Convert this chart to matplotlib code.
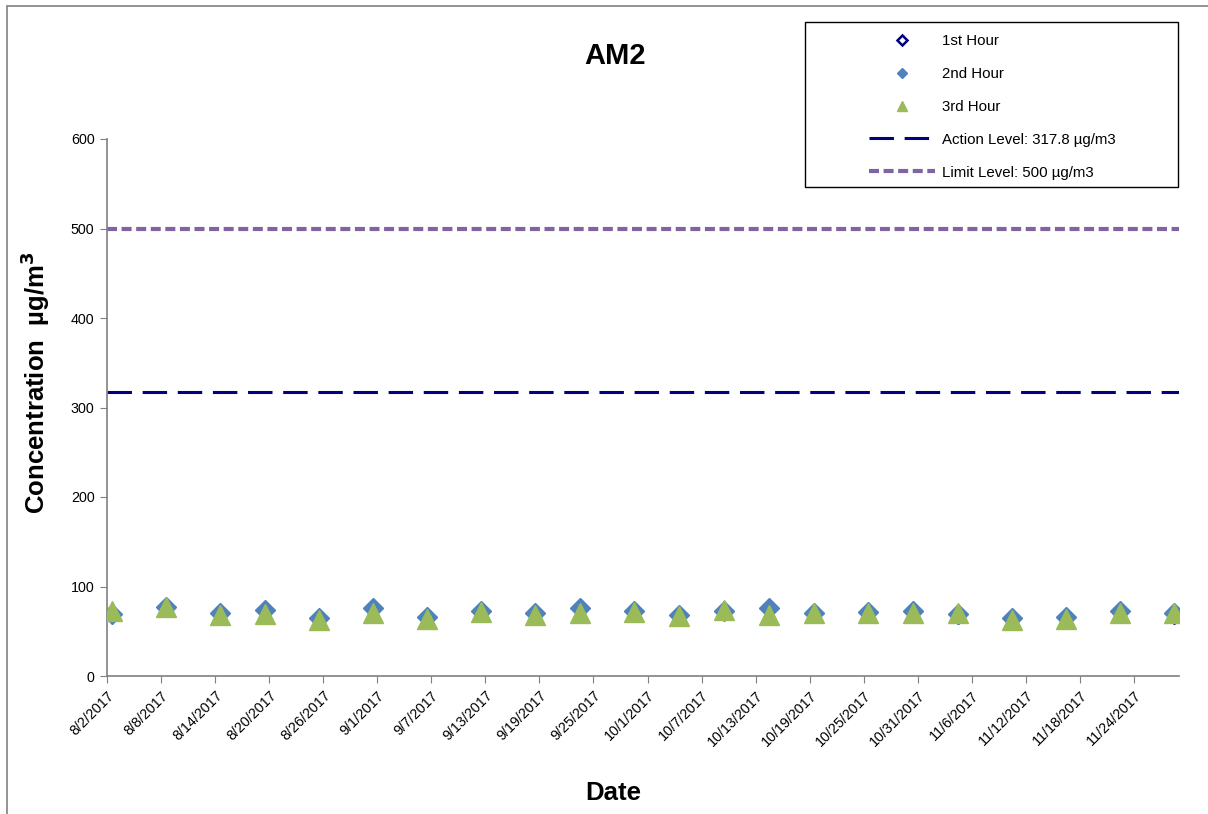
import matplotlib
matplotlib.use("Agg")
import matplotlib.pyplot as plt
from matplotlib.lines import Line2D
from matplotlib.patches import Rectangle
import pandas as pd

plt.rcParams['font.family'] = ['Liberation Sans', 'DejaVu Sans']

dates = ["2017-08-02", "2017-08-08", "2017-08-14", "2017-08-19", "2017-08-25", "2017-08-31",
         "2017-09-06", "2017-09-12", "2017-09-18", "2017-09-23", "2017-09-29", "2017-10-04",
         "2017-10-09", "2017-10-14", "2017-10-19", "2017-10-25", "2017-10-30", "2017-11-04",
         "2017-11-10", "2017-11-16", "2017-11-22", "2017-11-28"]
hour1 = [67, 75, 68, 72, 63, 74, 64, 71, 68, 74, 71, 66, 70, 74, 69, 72, 71, 66, 63, 65, 71, 66]
hour2 = [69.6, 77.4, 70, 73.7, 64.4, 75.6, 66.3, 73, 70, 75.6, 72.6, 68.2, 73, 75.6, 70.7, 71.8,
         73, 69.3, 64.4, 66.3, 73, 70]
hour3 = [72.3, 77.1, 68.2, 69.6, 62.9, 70, 63.5, 71, 68, 70.7, 71, 67.4, 73.7, 68.7, 70.7, 70.7,
         70.7, 70, 62.9, 63.5, 70.7, 70]
action_level = 317.8
limit_level = 500
tick_start, tick_end = "2017-08-02", "2017-11-29"
y_ticks = [0, 100, 200, 300, 400, 500, 600]

W, H = 1208, 814
fig = plt.figure(figsize=(W / 100, H / 100), dpi=100)

def fx(px):
    return px / W

def fy(py):
    return 1 - py / H

ax = fig.add_axes([fx(107), fy(676), fx(1179) - fx(107), fy(139) - fy(676)])

x = pd.to_datetime(dates) + pd.Timedelta(hours=12)
ax.plot(x, hour1, linestyle='none', marker='D', markersize=7, markerfacecolor='#000080',
        markeredgecolor='#000080', zorder=3)
ax.plot(x, hour2, linestyle='none', marker='D', markersize=10.5, markerfacecolor='#4F81BD',
        markeredgecolor='#4F81BD', zorder=4)
ax.plot(x, hour3, linestyle='none', marker='^', markersize=14, markerfacecolor='#9BBB59',
        markeredgecolor='#9BBB59', zorder=5)

ax.axhline(action_level, color='#000080', linewidth=2.2, dashes=(8, 3.5), zorder=2)
ax.axhline(limit_level, color='#8064A2', linewidth=3.0, dashes=(2.4, 1.1), zorder=2)

ax.set_xlim(pd.Timestamp(tick_start), pd.Timestamp(tick_end))
ax.set_ylim(0, 600)
ax.set_yticks(y_ticks)
xt = pd.date_range(tick_start, tick_end, freq='6D')
ax.set_xticks(xt)
ax.set_xticklabels([f"{d.month}/{d.day}/{d.year}" for d in xt], rotation=45, ha='right',
                   rotation_mode='anchor', fontsize=10.3)
ax.tick_params(axis='y', labelsize=10.3, length=5, color='#808080', pad=4)
ax.tick_params(axis='x', length=5, color='#808080', pad=4)
for s in ['top', 'right']:
    ax.spines[s].set_visible(False)
for s in ['left', 'bottom']:
    ax.spines[s].set_color('#808080')
    ax.spines[s].set_linewidth(1.2)

fig.text(fx(615), fy(56), "AM2", fontsize=21, fontweight='bold', ha='center', va='center')
fig.text(fx(613), fy(793), "Date", fontsize=18.5, fontweight='bold', ha='center', va='center')
fig.text(fx(35), fy(383), r"Concentration  µg/m$^{\mathbf{3}}$", fontsize=18.5, fontweight='bold',
         ha='center', va='center', rotation=90)

# outer chart border
fig.patches.append(Rectangle((fx(7), fy(820)), fx(1210) - fx(7), fy(6) - fy(820),
                             transform=fig.transFigure, fill=False, edgecolor='#808080',
                             linewidth=1.2))
# legend box
fig.patches.append(Rectangle((fx(805), fy(187)), fx(1178) - fx(805), fy(22) - fy(187),
                             transform=fig.transFigure, fill=False, edgecolor='black',
                             linewidth=1.0))
handles = [
    Line2D([], [], linestyle='none', marker='D', markersize=5, markerfacecolor='white',
           markeredgecolor='#000080', markeredgewidth=1.8),
    Line2D([], [], linestyle='none', marker='D', markersize=5, markerfacecolor='#4F81BD',
           markeredgecolor='#4F81BD'),
    Line2D([], [], linestyle='none', marker='^', markersize=7, markerfacecolor='#9BBB59',
           markeredgecolor='#9BBB59'),
    Line2D([], [], color='#000080', linewidth=2.2, dashes=(8, 3.5)),
    Line2D([], [], color='#8064A2', linewidth=3.0, dashes=(2.4, 1.1)),
]
labels = ["1st Hour", "2nd Hour", "3rd Hour", "Action Level: 317.8 µg/m3", "Limit Level: 500 µg/m3"]
fig.legend(handles, labels, loc='upper left', bbox_to_anchor=(fx(869), fy(34)),
           frameon=False, fontsize=10.8, handlelength=4.4, handletextpad=0.45,
           labelspacing=1.26, borderpad=0, borderaxespad=0)

fig.savefig("out.png", dpi=100)
